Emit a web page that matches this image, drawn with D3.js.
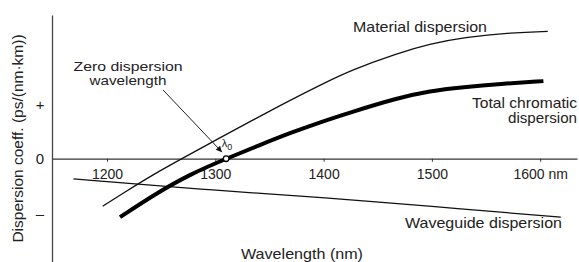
<!DOCTYPE html>
<html>
<head>
<meta charset="utf-8">
<script src="https://cdn.jsdelivr.net/npm/d3@7"></script>
<style>
  html, body { margin: 0; padding: 0; background: #fff; }
  svg { display: block; }
  text { font-family: "Liberation Sans", Arial, Helvetica, sans-serif; fill: #222; }
</style>
</head>
<body>
<svg id="chart" width="579" height="262"></svg>
<script>
// ---- data (wavelength in nm, dispersion in arbitrary units: +1 / 0 / -1 ticks) ----
const materialWl  = [1196, 1215, 1240, 1269, 1304, 1335, 1366, 1397, 1425, 1468, 1498, 1529, 1575, 1607];
const materialD   = [-0.87, -0.63, -0.32, 0, 0.38, 0.71, 1.04, 1.35, 1.62, 1.93, 2.10, 2.22, 2.31, 2.33];
const totalWl     = [1212, 1244, 1277, 1310, 1341, 1369, 1397, 1425, 1468, 1498, 1529, 1563, 1603];
const totalD      = [-1.07, -0.65, -0.28, 0, 0.25, 0.47, 0.67, 0.85, 1.11, 1.24, 1.31, 1.37, 1.42];
const waveguideWl = [1169, 1286, 1406, 1498, 1619];
const waveguideD  = [-0.37, -0.56, -0.72, -0.87, -1.07];
const zeroWl = 1310;
const xTickValues = [1200, 1300, 1400, 1500, 1600];
const xTickLabels = ["1200", "1300", "1400", "1500", "1600 nm"];
const yTickValues = [1, 0, -1];
const yTickLabels = ["+", "0", "\u2013"];
const xDomain = [1149.2, 1634];
const yDomain = [-1.89, 2.63];

const svg = d3.select("#chart");
const x = d3.scaleLinear().domain(xDomain).range([52, 577]);
const y = d3.scaleLinear().domain(yDomain).range([262, 15]);

// ---- axes ----
const xAxis = d3.axisBottom(x)
  .tickValues(xTickValues)
  .tickSizeInner(3).tickSizeOuter(0)
  .tickFormat((d, i) => xTickLabels[i]);
const gx = svg.append("g").attr("transform", `translate(0,${y(0)})`).call(xAxis);
gx.select(".domain").attr("stroke", "#333").attr("stroke-width", 1.2);
gx.selectAll(".tick line").attr("stroke", "#333").attr("stroke-width", 1);
gx.selectAll(".tick text").attr("y", 20).attr("dy", 0)
  .style("font-size", "14px").attr("fill", "#222");

const yAxis = d3.axisLeft(y)
  .tickValues(yTickValues)
  .tickSizeInner(0).tickSizeOuter(0)
  .tickFormat((d, i) => yTickLabels[i]);
const gy = svg.append("g").attr("transform", `translate(${x(xDomain[0])},0)`).call(yAxis);
gy.select(".domain").attr("stroke", "#444").attr("stroke-width", 1.3);
gy.selectAll(".tick text").attr("x", -12).attr("text-anchor", "middle")
  .attr("dy", "0.35em").style("font-size", "15px").attr("fill", "#222");

// ---- curves ----
const line = d3.line().x(d => x(d[0])).y(d => y(d[1])).curve(d3.curveBasis);
const zip = (a, b) => a.map((v, i) => [v, b[i]]);

svg.append("path").datum(zip(waveguideWl, waveguideD))
  .attr("d", line).attr("fill", "none").attr("stroke", "#111").attr("stroke-width", 1.3);
svg.append("path").datum(zip(materialWl, materialD))
  .attr("d", line).attr("fill", "none").attr("stroke", "#111").attr("stroke-width", 1.3);
svg.append("path").datum(zip(totalWl, totalD))
  .attr("d", line).attr("fill", "none").attr("stroke", "#000").attr("stroke-width", 4);

// ---- annotation arrow ----
svg.append("defs").append("marker")
  .attr("id", "arrow").attr("viewBox", "0 0 10 10")
  .attr("refX", 10).attr("refY", 5)
  .attr("markerWidth", 9).attr("markerHeight", 6)
  .attr("markerUnits", "userSpaceOnUse")
  .attr("orient", "auto")
  .append("path").attr("d", "M0,0 L10,5 L0,10 Z").attr("fill", "#111");

svg.append("line")
  .attr("x1", x(1251.7)).attr("y1", y(1.26))
  .attr("x2", x(1306.2)).attr("y2", y(0.12))
  .attr("stroke", "#222").attr("stroke-width", 1)
  .attr("marker-end", "url(#arrow)");

svg.append("circle")
  .attr("cx", x(zeroWl)).attr("cy", y(0)).attr("r", 2.8)
  .attr("fill", "#fff").attr("stroke", "#000").attr("stroke-width", 1.3);

const lam = svg.append("text").attr("x", x(1306)).attr("y", y(0.22))
  .style("font-size", "11px").attr("fill", "#333");
lam.append("tspan").text("\u03bb");
lam.append("tspan").attr("dy", 3).style("font-size", "9px").text("0");

// ---- labels ----
const lbl = (txt, px, py, anchor, w, fs) => svg.append("text")
  .attr("x", px).attr("y", py).attr("text-anchor", anchor)
  .attr("textLength", w).attr("lengthAdjust", "spacingAndGlyphs")
  .style("font-size", (fs || 14.5) + "px").text(txt);

lbl("Zero dispersion", 128, 70.5, "middle", 109, 13.5);
lbl("wavelength", 128, 85, "middle", 77, 13.5);
lbl("Material dispersion", 353, 32, "start", 134);
lbl("Total chromatic", 577, 108, "end", 105);
lbl("dispersion", 577, 122.5, "end", 69);
lbl("Waveguide dispersion", 562, 228, "end", 157);
lbl("Wavelength (nm)", 302, 259, "middle", 122);

svg.append("text")
  .attr("transform", "translate(23,138.5) rotate(-90)")
  .attr("text-anchor", "middle")
  .style("font-size", "15.5px")
  .text("Dispersion coeff. (ps/(nm\u00b7km))");
</script>
</body>
</html>
